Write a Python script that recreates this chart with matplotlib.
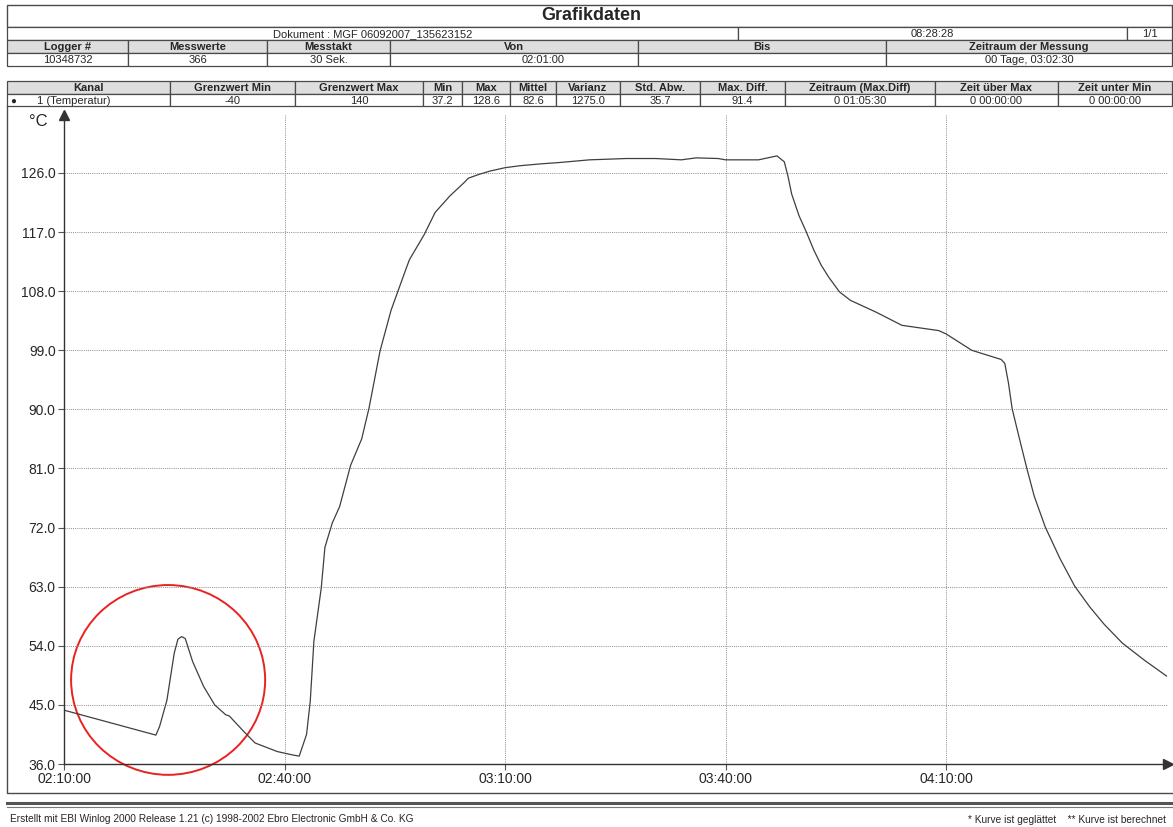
import pandas as pd
import matplotlib
matplotlib.use('Agg')
import matplotlib.pyplot as plt
import matplotlib.dates as mdates
from matplotlib.patches import Rectangle, Ellipse

plt.rcParams['font.family'] = ['Liberation Sans', 'DejaVu Sans']

zeiten = ['02:10:00', '02:22:30', '02:23:00', '02:24:00', '02:25:00', '02:25:30', '02:26:00',
          '02:26:30', '02:27:30', '02:29:00', '02:30:30', '02:32:00', '02:32:30', '02:34:30',
          '02:36:00', '02:39:00', '02:41:00', '02:42:00', '02:43:00', '02:43:30', '02:44:00',
          '02:45:00', '02:45:30', '02:46:30', '02:47:30', '02:49:00', '02:50:30', '02:51:30',
          '02:53:00', '02:54:30', '02:55:30', '02:56:30', '02:57:00', '02:59:00', '03:00:30',
          '03:02:30', '03:04:30', '03:05:00', '03:06:30', '03:08:00', '03:10:00', '03:12:00',
          '03:15:00', '03:17:30', '03:21:30', '03:26:30', '03:30:30', '03:34:00', '03:36:00',
          '03:39:00', '03:40:00', '03:44:30', '03:47:00', '03:48:00', '03:48:30', '03:49:00',
          '03:50:00', '03:51:00', '03:52:00', '03:53:00', '03:54:00', '03:55:30', '03:57:00',
          '04:00:30', '04:04:00', '04:09:00', '04:10:00', '04:13:30', '04:17:30', '04:18:00',
          '04:18:30', '04:19:00', '04:20:00', '04:21:00', '04:22:00', '04:23:30', '04:25:30',
          '04:27:30', '04:29:30', '04:31:30', '04:34:00', '04:37:00', '04:40:00']
temperatur = [44.2, 40.4, 41.7, 45.7, 52.9, 55.0, 55.4,
              55.1, 51.6, 47.8, 45.0, 43.5, 43.3, 40.9,
              39.2, 37.9, 37.4, 37.2, 40.5, 45.5, 54.7,
              62.8, 69.0, 72.7, 75.2, 81.5, 85.5, 90.2,
              98.9, 105.1, 108.2, 111.3, 112.8, 116.6, 120.0,
              122.5, 124.6, 125.2, 125.8, 126.3, 126.8, 127.1,
              127.4, 127.6, 128.0, 128.2, 128.2, 128.0, 128.3,
              128.2, 128.0, 128.0, 128.6, 127.7, 125.5, 122.8,
              119.5, 117.0, 114.3, 112.0, 110.2, 107.9, 106.6,
              104.8, 102.8, 102.0, 101.5, 99.0, 97.6, 97.0,
              94.0, 90.1, 85.5, 81.0, 76.8, 72.1, 67.3,
              63.1, 60.0, 57.3, 54.4, 51.8, 49.4]

y_ticks = [36.0, 45.0, 54.0, 63.0, 72.0, 81.0, 90.0, 99.0, 108.0, 117.0, 126.0]
x_ticks = ['02:10:00', '02:40:00', '03:10:00', '03:40:00', '04:10:00']

kopf1_titel = ['Logger #', 'Messwerte', 'Messtakt', 'Von', 'Bis', 'Zeitraum der Messung']
kopf1_werte = ['10348732', '366', '30 Sek.', '02:01:00', '', '00 Tage, 03:02:30']
kopf2_titel = ['Kanal', 'Grenzwert Min', 'Grenzwert Max', 'Min', 'Max', 'Mittel', 'Varianz',
               'Std. Abw.', 'Max. Diff.', 'Zeitraum (Max.Diff)', 'Zeit über Max', 'Zeit unter Min']
kopf2_werte = ['1 (Temperatur)', '-40', '140', '37.2', '128.6', '82.6', '1275.0',
               '35.7', '91.4', '0 01:05:30', '0 00:00:00', '0 00:00:00']

W, H = 1173, 827
TXT = '#262626'
LIN = '#4a4a4a'


def zu_zeit(t):
    return pd.to_datetime('2007-09-06 ' + pd.Series(t))


def zeile(ax, grenzen, y0, y1, texte, fett=False, grau=False, xs=None):
    for i in range(len(grenzen) - 1):
        x0, x1 = grenzen[i], grenzen[i + 1]
        ax.add_patch(Rectangle((x0, y0), x1 - x0, y1 - y0, facecolor='#dedede' if grau else 'white',
                               edgecolor=LIN, lw=0.9))
        xt = (x0 + x1) / 2 if xs is None or xs[i] is None else xs[i]
        ax.text(xt, (y0 + y1) / 2 + 0.5, texte[i], ha='center', va='center', fontsize=8,
                color=TXT, fontweight='bold' if fett else 'normal')


fig = plt.figure(figsize=(W / 100, H / 100), dpi=100)
bg = fig.add_axes([0, 0, 1, 1])
bg.set_xlim(0, W)
bg.set_ylim(H, 0)
bg.axis('off')

# Kopfbereich
bg.add_patch(Rectangle((7, 5), 1172 - 7, 22, facecolor='white', edgecolor=LIN, lw=1.0))
bg.text(591, 16, 'Grafikdaten', ha='center', va='center', fontsize=13, fontweight='bold', color=TXT)
zeile(bg, [7, 738, 1127, 1172], 27, 40, ['Dokument : MGF 06092007_135623152', '08:28:28', '1/1'])
zeile(bg, [7, 128, 267, 390, 638, 886, 1172], 40, 53, kopf1_titel, fett=True, grau=True)
zeile(bg, [7, 128, 267, 390, 638, 886, 1172], 53, 66, kopf1_werte,
      xs=[None, None, None, 543, None, None])

grenzen2 = [7, 170, 295, 423, 462, 510, 556, 620, 700, 785, 935, 1058, 1172]
zeile(bg, grenzen2, 81, 94, kopf2_titel, fett=True, grau=True)
zeile(bg, grenzen2, 94, 106, kopf2_werte, xs=[74] + [None] * 11)
bg.text(13, 100.5, '●', ha='center', va='center', fontsize=7, color=TXT)

# Rahmen um das Diagramm und Fußzeile
bg.plot([7, 7, 1172], [106, 793, 793], color=LIN, lw=1.0)
bg.plot([7, 1172], [803, 803], color='#555555', lw=2.2)
bg.plot([7, 1172], [806.5, 806.5], color='#777777', lw=0.8)
bg.text(10, 819, 'Erstellt mit EBI Winlog 2000 Release 1.21 (c) 1998-2002 Ebro Electronic GmbH & Co. KG',
        ha='left', va='center', fontsize=7.3, color=TXT)
bg.text(968, 820, '* Kurve ist geglättet    ** Kurve ist berechnet', ha='left', va='center',
        fontsize=7.3, color=TXT)

# Diagramm
L, R, B, T = 64, 1168, 764, 115
ax = fig.add_axes([L / W, 1 - B / H, (R - L) / W, (B - T) / H])
ax.patch.set_alpha(0)

t = zu_zeit(zeiten)
ax.plot(t, temperatur, color='#3f3f3f', lw=0.9, solid_joinstyle='round')

t_start = pd.Timestamp('2007-09-06 02:10:00')
ax.set_xlim(t_start, t_start + pd.Timedelta(minutes=(R - L) / 7.35))
ax.set_ylim(36.0, 36.0 + (B - T) / 6.567)

ax.set_yticks(y_ticks)
ax.set_yticklabels([f'{v:.1f}' for v in y_ticks])
ax.set_xticks(zu_zeit(x_ticks))
ax.xaxis.set_major_formatter(mdates.DateFormatter('%H:%M:%S'))

ax.grid(True, linestyle=(0, (1, 1.2)), color='#8c8c8c', lw=0.7)
for s in ['top', 'right']:
    ax.spines[s].set_visible(False)
for s in ['left', 'bottom']:
    ax.spines[s].set_color('#333333')
    ax.spines[s].set_linewidth(1.0)
ax.tick_params(axis='both', direction='out', length=4, width=0.8, color='#555555',
               labelsize=10, labelcolor=TXT, pad=2)

ax.plot([0], [1], marker='^', ms=7, color='#333333', transform=ax.transAxes, clip_on=False)
ax.plot([1], [0], marker='>', ms=7, color='#333333', transform=ax.transAxes, clip_on=False)
fig.text(38 / W, 1 - 122 / H, '°C', ha='center', va='center', fontsize=12, color=TXT)

# roter Kreis um den ersten Peak
mitte = mdates.date2num(pd.Timestamp('2007-09-06 02:24:10'))
ax.add_patch(Ellipse((mitte, 48.8), width=26.4 / 1440, height=28.9, fill=False,
                     edgecolor='#e8231f', lw=1.4, clip_on=False))

fig.savefig('out.png', dpi=100)
